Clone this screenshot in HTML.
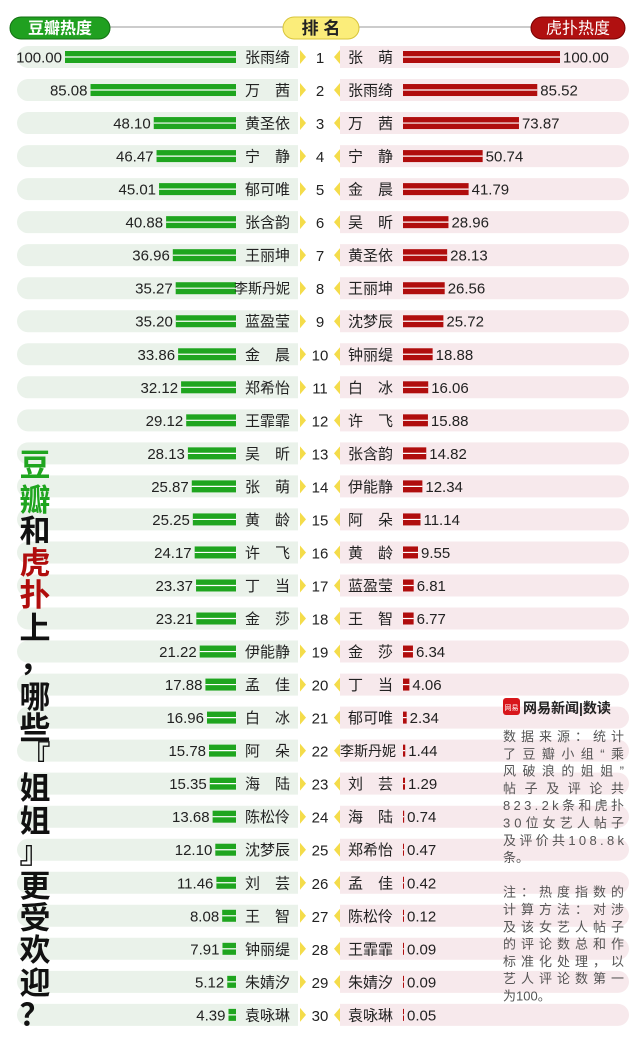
<!DOCTYPE html>
<html><head><meta charset="utf-8">
<style>
body{margin:0;background:#fff;width:640px;height:1049px;overflow:hidden;font-family:"Liberation Sans","Noto Sans CJK SC",sans-serif;}
svg text{font-family:"Liberation Sans","Noto Sans CJK SC",sans-serif;}
</style></head>
<body>
<svg id="chart" width="640" height="1049" xmlns="http://www.w3.org/2000/svg">
<g>
<line x1="60" y1="27" x2="600" y2="27" stroke="#999" stroke-width="1"/>
<rect x="10" y="17" width="100" height="22" rx="11" fill="#20a020" stroke="#137013"/>
<text x="60" y="33.5" text-anchor="middle" font-size="16" fill="#fff" font-weight="bold">豆瓣热度</text>
<rect x="283" y="17" width="76" height="22" rx="11" fill="#fbed7a" stroke="#d8c53a"/>
<text x="321" y="34" text-anchor="middle" font-size="17" fill="#222" font-weight="bold">排 名</text>
<rect x="531" y="17" width="94" height="22" rx="11" fill="#b01010" stroke="#700"/>
<text x="578" y="33.5" text-anchor="middle" font-size="16" fill="#fff">虎扑热度</text>
</g>
<g id="rows"></g>
<g id="title"></g>
<g>
<rect x="503" y="698" width="17" height="17" rx="3" fill="#d8161b"/>
<text x="511.5" y="710" text-anchor="middle" font-size="7" fill="#fff">网易</text>
<text x="523" y="713" font-size="14" font-weight="bold" fill="#222">网易新闻|数读</text>
<g id="notes" font-size="13" fill="#555"></g>
</g>
</svg>
<script>
const ranks=[...Array(30)].map((_,i)=>i+1);
const doubanNames=["张雨绮","万　茜","黄圣依","宁　静","郁可唯","张含韵","王丽坤","李斯丹妮","蓝盈莹","金　晨","郑希怡","王霏霏","吴　昕","张　萌","黄　龄","许　飞","丁　当","金　莎","伊能静","孟　佳","白　冰","阿　朵","海　陆","陈松伶","沈梦辰","刘　芸","王　智","钟丽缇","朱婧汐","袁咏琳"];
const doubanValues=[100.00,85.08,48.10,46.47,45.01,40.88,36.96,35.27,35.20,33.86,32.12,29.12,28.13,25.87,25.25,24.17,23.37,23.21,21.22,17.88,16.96,15.78,15.35,13.68,12.10,11.46,8.08,7.91,5.12,4.39];
const hupuNames=["张　萌","张雨绮","万　茜","宁　静","金　晨","吴　昕","黄圣依","王丽坤","沈梦辰","钟丽缇","白　冰","许　飞","张含韵","伊能静","阿　朵","黄　龄","蓝盈莹","王　智","金　莎","丁　当","郁可唯","李斯丹妮","刘　芸","海　陆","郑希怡","孟　佳","陈松伶","王霏霏","朱婧汐","袁咏琳"];
const hupuValues=[100.00,85.52,73.87,50.74,41.79,28.96,28.13,26.56,25.72,18.88,16.06,15.88,14.82,12.34,11.14,9.55,6.81,6.77,6.34,4.06,2.34,1.44,1.29,0.74,0.47,0.42,0.12,0.09,0.09,0.05];

const NS="http://www.w3.org/2000/svg";
const rowY=i=>57+i*33.03;
const leftW=v=>v/100*171;
const rightW=v=>v/100*157;
function mk(tag,attrs,parent,txt){const e=document.createElementNS(NS,tag);for(const k in attrs)e.setAttribute(k,attrs[k]);if(txt!=null)e.textContent=txt;parent.appendChild(e);return e;}
const rows=document.getElementById('rows');
ranks.forEach((r,i)=>{
  const y=rowY(i);
  const g=mk('g',{},rows);
  
  
  const lb=mk('path',{d:`M298 ${y-11} H28 A11 11 0 0 0 28 ${y+11} H298 Z`,fill:'#eaf2ea'},g);
  
  
  const rb=mk('path',{d:`M340 ${y-11} H618 A11 11 0 0 1 618 ${y+11} H340 Z`,fill:'#f7e9ec'},g);
  
  
  const lw=leftW(doubanValues[i]);
  const gb=mk('rect',{x:236-lw,y:y-6,width:lw,height:12,fill:'#1fa51f'},g);
  
  
  mk('line',{x1:236-lw,x2:236,y1:y,y2:y,stroke:'#fff','stroke-width':1.2},g);
  const lt=mk('text',{x:233-lw,y:y+5.5,'text-anchor':'end','font-size':15,fill:'#222'},g,doubanValues[i].toFixed(2));
  
  
  const nm=doubanNames[i];
  const ln=mk('text',{x:290,y:y+5.5,'text-anchor':'end','font-size':nm.length>3?14:15,fill:'#222'},g,nm);
  
  
  mk('path',{d:`M300 ${y-7} L306 ${y} L300 ${y+7} Z`,fill:'#f4dc4a'},g);
  const rt=mk('text',{x:320,y:y+6,'text-anchor':'middle','font-size':15,fill:'#222'},g,String(r));
  
  
  mk('path',{d:`M340 ${y-7} L334 ${y} L340 ${y+7} Z`,fill:'#f4dc4a'},g);
  const hn=hupuNames[i];
  const rn=mk('text',{x:hn.length>3?340:348,y:y+5.5,'font-size':hn.length>3?14:15,fill:'#222'},g,hn);
  
  
  const rw=Math.max(rightW(hupuValues[i]),1);
  const hb=mk('rect',{x:403,y:y-6,width:rw,height:12,fill:'#b00d0d'},g);
  
  
  mk('line',{x1:403,x2:403+rw,y1:y,y2:y,stroke:'#fff','stroke-width':1.2},g);
  const hv=mk('text',{x:406+rw,y:y+5.5,'font-size':15,fill:'#222'},g,hupuValues[i].toFixed(2));
  
  
});
const titleChars=[["豆","#1fa51f",465],["瓣","#1fa51f",500],["和","#111",531],["虎","#b00d0d",563],["扑","#b00d0d",595],["上","#111",628],["，","#111",660],["哪","#111",697],["些","#111",728],["『","#111",757],["姐","#111",788],["姐","#111",821],["』","#111",852],["更","#111",886],["受","#111",918],["欢","#111",950],["迎","#111",983],["？","#111",1015]];
const tg=document.getElementById('title');
titleChars.forEach((c)=>{
  const t=mk('text',{x:35,y:c[2]+11,'text-anchor':'middle','font-size':31,'font-weight':'bold',fill:c[1]},tg,c[0]);
  
  
});
const notes=["数据来源：统计","了豆瓣小组“乘","风破浪的姐姐”","帖子及评论共","823.2k条和虎扑","30位女艺人帖子","及评价共108.8k","条。","","注：热度指数的","计算方法：对涉","及该女艺人帖子","的评论数总和作","标准化处理，以","艺人评论数第一","为100。"];
const ng=document.getElementById('notes');
notes.forEach((s,i)=>{
  if(!s)return;
  const t=mk('text',{x:503,y:741+i*17.3},ng,s);
  if(s.length>=6){t.setAttribute('textLength',121);t.setAttribute('lengthAdjust','spacing');}
  
  
});
</script>
</body></html>
